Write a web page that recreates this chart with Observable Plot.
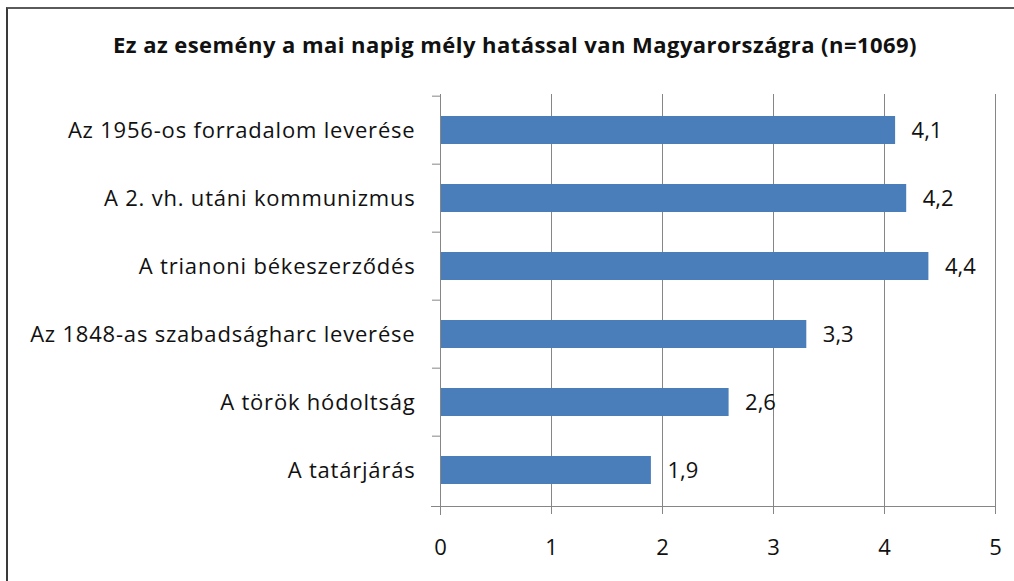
<!DOCTYPE html>
<html>
<head>
<meta charset="utf-8">
<script src="https://cdn.jsdelivr.net/npm/d3@7"></script>
<script src="https://cdn.jsdelivr.net/npm/@observablehq/plot@0.6"></script>
<style>
  html, body { margin: 0; padding: 0; background: #fff; }
  #wrap { position: relative; width: 1014px; height: 581px; overflow: hidden; }
  #border { position: absolute; left: 6px; top: 7px; right: -10px; bottom: -10px;
            border-top: 2px solid #5a5a5a; border-left: 2px solid #3a3a3a; }
  #title { position: absolute; left: 0; width: 1030px; top: 29px; text-align: center; line-height: 30px;
           font-family: "Open Sans", Lato, sans-serif; font-weight: bold; font-size: 22px;
           letter-spacing: 0.45px; color: #111; }
  #chart { position: absolute; left: 0; top: 0; }
  #chart g[aria-label="y-axis tick label"] text { letter-spacing: 0.8px; }
</style>
</head>
<body>
<div id="wrap">
  <div id="border"></div>
  <div id="title">Ez az esemény a mai napig mély hatással van Magyarországra (n=1069)</div>
  <div id="chart"></div>
</div>
<script>
const categories = [
  "Az 1956-os forradalom leverése",
  "A 2. vh. utáni kommunizmus",
  "A trianoni békeszerződés",
  "Az 1848-as szabadságharc leverése",
  "A török hódoltság",
  "A tatárjárás"
];
const values = [4.1, 4.2, 4.4, 3.3, 2.6, 1.9];
const valueLabels = ["4,1", "4,2", "4,4", "3,3", "2,6", "1,9"];
const xTicks = [0, 1, 2, 3, 4, 5];

const data = categories.map((c, i) => ({category: c, value: values[i], label: valueLabels[i]}));

const W = 1014, H = 581;
const mT = 94, mB = 75, mL = 440, mR = 19;
const band = (H - mT - mB) / categories.length;
const font = "'Open Sans', Lato, sans-serif";

const plot = Plot.plot({
  width: W, height: H,
  marginTop: mT, marginBottom: mB, marginLeft: mL, marginRight: mR,
  style: {fontFamily: font, background: "transparent", color: "#111"},
  x: {domain: [0, 5], ticks: xTicks, label: null},
  y: {domain: categories, paddingInner: 0.59, paddingOuter: 0.295, label: null},
  marks: [
    Plot.gridX(xTicks.filter(d => d > 0), {stroke: "#868686", strokeOpacity: 1}),
    Plot.barX(data, {y: "category", x: "value", fill: "#4a7ebb"}),
    Plot.text(data, {y: "category", x: "value", text: "label", textAnchor: "start", dx: 16, fontSize: 22, fill: "#111"}),
    Plot.frame({anchor: "left", stroke: "#868686", insetBottom: -8}),
    Plot.frame({anchor: "bottom", stroke: "#868686", insetLeft: -9}),
    Plot.axisY({ticks: categories, tickSize: 8, dy: -band / 2, text: null, stroke: "#868686", strokeOpacity: 1}),
    Plot.axisY({ticks: categories, tickSize: 0, tickPadding: 25, fontSize: 22, fill: "#111"}),
    Plot.axisX({ticks: xTicks, tickSize: 8, tickPadding: 25, fontSize: 22, stroke: "#868686", strokeOpacity: 1, fill: "#111", tickFormat: d => String(d)})
  ]
});
document.getElementById("chart").appendChild(plot);
</script>
</body>
</html>
